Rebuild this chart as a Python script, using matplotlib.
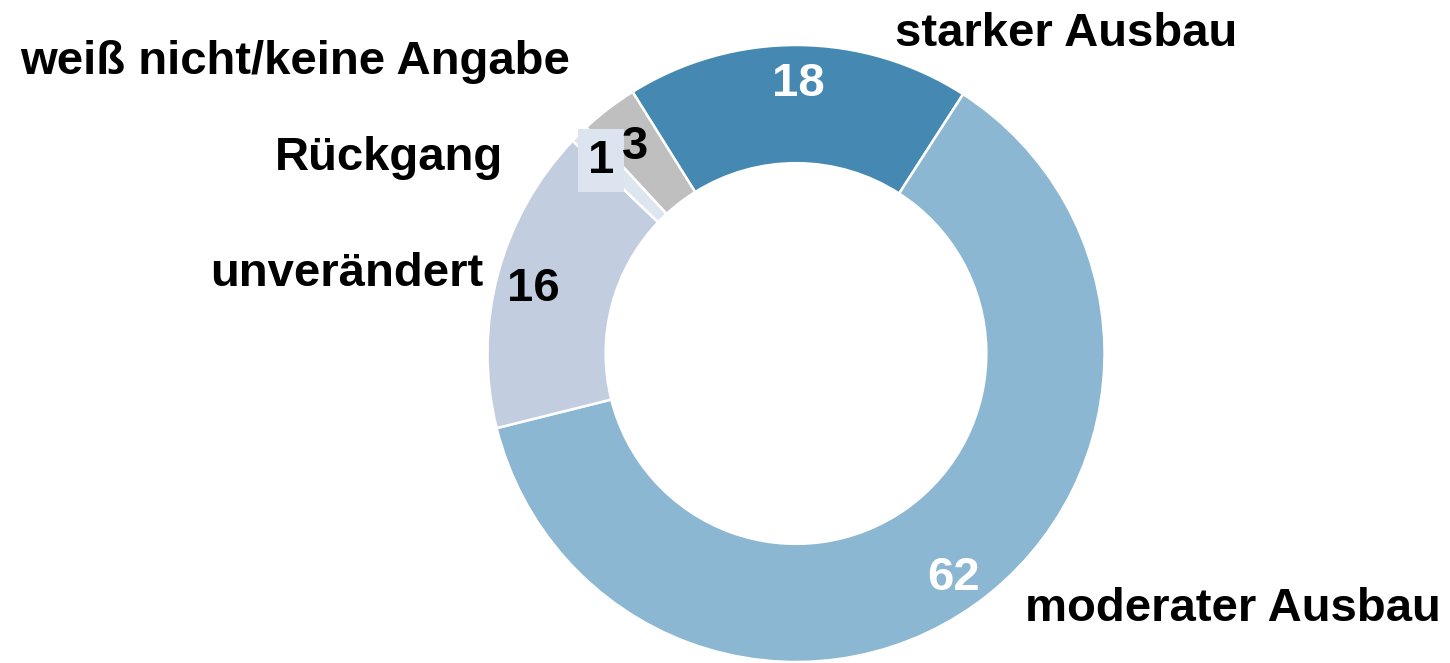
import matplotlib
matplotlib.use("Agg")
import matplotlib.pyplot as plt
import numpy as np

categories = ["starker Ausbau", "moderater Ausbau", "unverändert", "Rückgang", "weiß nicht/keine Angabe"]
values = [18, 62, 16, 1, 3]
colors = ["#4589B2", "#8BB7D2", "#C2CEE0", "#DDE5F0", "#BFBFBF"]
value_colors = ["white", "white", "black", "black", "black"]

plt.rcParams['font.family'] = ['Liberation Sans', 'DejaVu Sans']

W, H = 1450, 663
fig = plt.figure(figsize=(W / 100, H / 100), dpi=100)
ax = fig.add_axes([0, 0, 1, 1])

R = 308.5
cx, cy = 796, 353.5
wedges, _ = ax.pie(values, colors=colors, startangle=122, counterclock=False,
                   radius=1, wedgeprops=dict(width=0.383, edgecolor="white", linewidth=1.8))
ax.set_aspect('auto')
ax.set_xlim(-cx / R, (W - cx) / R)
ax.set_ylim(-(H - cy) / R, cy / R)
ax.axis('off')

FS = 34
half_cap = 0.716 * FS * 100 / 72 / 2 / R  # half cap height in data units
label_r = [0.89, 0.876, 0.882, 0.90, 0.861]
for i, w in enumerate(wedges):
    ang = np.deg2rad((w.theta1 + w.theta2) / 2)
    x, y = label_r[i] * np.cos(ang), label_r[i] * np.sin(ang)
    kw = {}
    if categories[i] == "Rückgang":
        kw['bbox'] = dict(boxstyle='square,pad=0.2', facecolor='#DCE4F0', edgecolor='none')
    ax.text(x, y - half_cap, str(values[i]), ha='center', va='baseline', fontsize=FS,
            fontweight='bold', color=value_colors[i], zorder=5 if i == 4 else 4, **kw)

def fig_xy(px, py):
    return px / W, 1 - py / H

label_pos = {
    "starker Ausbau": (895, 46, 'left'),
    "moderater Ausbau": (1025, 621, 'left'),
    "unverändert": (210, 286, 'left'),
    "Rückgang": (275, 170, 'left'),
    "weiß nicht/keine Angabe": (20, 74, 'left'),
}
for name in categories:
    px, py, ha = label_pos[name]
    fx, fy = fig_xy(px, py)
    fig.text(fx, fy, name, ha=ha, va='baseline', fontsize=FS, fontweight='bold', color='black')

fig.savefig("out.png", dpi=100)
